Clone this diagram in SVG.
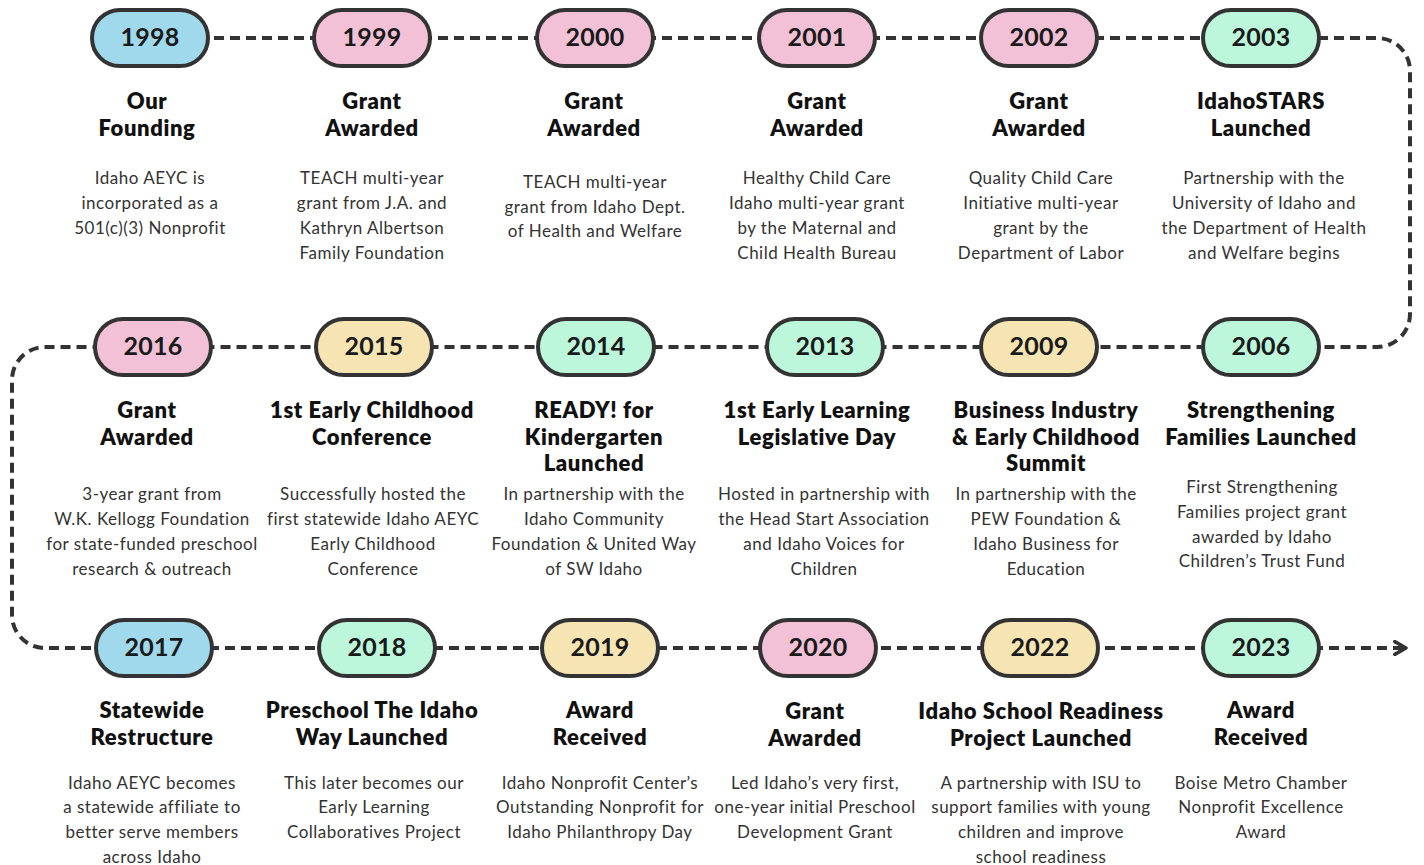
<svg xmlns="http://www.w3.org/2000/svg" width="1424" height="865" viewBox="0 0 1424 865">
<defs>
<style>
.pill{stroke:#333;stroke-width:4}
.blue{fill:#a0d8ec}.pink{fill:#f2c1d6}.green{fill:#bcf7dc}.yellow{fill:#f6e5b3}
.yr{font-family:Lato,"Liberation Sans",sans-serif;font-weight:700;font-size:25px;fill:#1a1a1a;text-anchor:middle;letter-spacing:0.3px}
.ti{font-family:Lato,"Liberation Sans",sans-serif;font-weight:800;font-size:22px;fill:#111;text-anchor:middle;letter-spacing:0.6px}
.bd{font-family:Lato,"Liberation Sans",sans-serif;font-weight:400;font-size:17px;fill:#333;text-anchor:middle;letter-spacing:0.5px}
.line{fill:none;stroke:#333;stroke-width:4;stroke-dasharray:10 6}
</style>
<marker id="arr" viewBox="0 0 10 10" refX="8" refY="5" markerWidth="4" markerHeight="4" orient="auto" markerUnits="strokeWidth">
<path d="M1,1 L8,5 L1,9" fill="none" stroke="#333" stroke-width="2.2" stroke-linecap="round" stroke-linejoin="round"/>
</marker>
</defs>
<rect width="1424" height="865" fill="#fff"/>
<g id="connectors">
<path class="line" d="M150,38 H1377 A33,33 0 0 1 1410,71 V314 A33,33 0 0 1 1377,347 H45 A33,33 0 0 0 12,380 V615 A33,33 0 0 0 45,648 H1406" marker-end="url(#arr)"/>
</g>

<g id="n1998"><rect class="pill blue" x="92" y="10" width="116" height="56" rx="28"/><text class="yr" x="150" y="46">1998</text>
<text class="ti" x="147" y="109">Our</text><text class="ti" x="147" y="136">Founding</text>
<text class="bd" x="150" y="184">Idaho AEYC is</text><text class="bd" x="150" y="209">incorporated as a</text><text class="bd" x="150" y="234">501(c)(3) Nonprofit</text></g>

<g id="n1999"><rect class="pill pink" x="314" y="10" width="116" height="56" rx="28"/><text class="yr" x="372" y="46">1999</text>
<text class="ti" x="372" y="109">Grant</text><text class="ti" x="372" y="136">Awarded</text>
<text class="bd" x="372" y="184">TEACH multi-year</text><text class="bd" x="372" y="209">grant from J.A. and</text><text class="bd" x="372" y="234">Kathryn Albertson</text><text class="bd" x="372" y="259">Family Foundation</text></g>

<g id="n2000"><rect class="pill pink" x="537" y="10" width="116" height="56" rx="28"/><text class="yr" x="595" y="46">2000</text>
<text class="ti" x="594" y="109">Grant</text><text class="ti" x="594" y="136">Awarded</text>
<text class="bd" x="595" y="188">TEACH multi-year</text><text class="bd" x="595" y="213">grant from Idaho Dept.</text><text class="bd" x="595" y="237">of Health and Welfare</text></g>

<g id="n2001"><rect class="pill pink" x="759" y="10" width="116" height="56" rx="28"/><text class="yr" x="817" y="46">2001</text>
<text class="ti" x="817" y="109">Grant</text><text class="ti" x="817" y="136">Awarded</text>
<text class="bd" x="817" y="184">Healthy Child Care</text><text class="bd" x="817" y="209">Idaho multi-year grant</text><text class="bd" x="817" y="234">by the Maternal and</text><text class="bd" x="817" y="259">Child Health Bureau</text></g>

<g id="n2002"><rect class="pill pink" x="981" y="10" width="116" height="56" rx="28"/><text class="yr" x="1039" y="46">2002</text>
<text class="ti" x="1039" y="109">Grant</text><text class="ti" x="1039" y="136">Awarded</text>
<text class="bd" x="1041" y="184">Quality Child Care</text><text class="bd" x="1041" y="209">Initiative multi-year</text><text class="bd" x="1041" y="234">grant by the</text><text class="bd" x="1041" y="259">Department of Labor</text></g>

<g id="n2003"><rect class="pill green" x="1203" y="10" width="116" height="56" rx="28"/><text class="yr" x="1261" y="46">2003</text>
<text class="ti" x="1261" y="109">IdahoSTARS</text><text class="ti" x="1261" y="136">Launched</text>
<text class="bd" x="1264" y="184">Partnership with the</text><text class="bd" x="1264" y="209">University of Idaho and</text><text class="bd" x="1264" y="234">the Department of Health</text><text class="bd" x="1264" y="259">and Welfare begins</text></g>

<g id="n2016"><rect class="pill pink" x="95" y="319" width="116" height="56" rx="28"/><text class="yr" x="153" y="355">2016</text>
<text class="ti" x="147" y="418">Grant</text><text class="ti" x="147" y="445">Awarded</text>
<text class="bd" x="152" y="500">3-year grant from</text><text class="bd" x="152" y="525">W.K. Kellogg Foundation</text><text class="bd" x="152" y="550">for state-funded preschool</text><text class="bd" x="152" y="575">research &amp; outreach</text></g>

<g id="n2015"><rect class="pill yellow" x="316" y="319" width="116" height="56" rx="28"/><text class="yr" x="374" y="355">2015</text>
<text class="ti" x="372" y="418">1st Early Childhood</text><text class="ti" x="372" y="445">Conference</text>
<text class="bd" x="373" y="500">Successfully hosted the</text><text class="bd" x="373" y="525">first statewide Idaho AEYC</text><text class="bd" x="373" y="550">Early Childhood</text><text class="bd" x="373" y="575">Conference</text></g>

<g id="n2014"><rect class="pill green" x="538" y="319" width="116" height="56" rx="28"/><text class="yr" x="596" y="355">2014</text>
<text class="ti" x="594" y="418">READY! for</text><text class="ti" x="594" y="445">Kindergarten</text><text class="ti" x="594" y="471">Launched</text>
<text class="bd" x="594" y="500">In partnership with the</text><text class="bd" x="594" y="525">Idaho Community</text><text class="bd" x="594" y="550">Foundation &amp; United Way</text><text class="bd" x="594" y="575">of SW Idaho</text></g>

<g id="n2013"><rect class="pill green" x="767" y="319" width="116" height="56" rx="28"/><text class="yr" x="825" y="355">2013</text>
<text class="ti" x="817" y="418">1st Early Learning</text><text class="ti" x="817" y="445">Legislative Day</text>
<text class="bd" x="824" y="500">Hosted in partnership with</text><text class="bd" x="824" y="525">the Head Start Association</text><text class="bd" x="824" y="550">and Idaho Voices for</text><text class="bd" x="824" y="575">Children</text></g>

<g id="n2009"><rect class="pill yellow" x="981" y="319" width="116" height="56" rx="28"/><text class="yr" x="1039" y="355">2009</text>
<text class="ti" x="1046" y="418">Business Industry</text><text class="ti" x="1046" y="445">&amp; Early Childhood</text><text class="ti" x="1046" y="471">Summit</text>
<text class="bd" x="1046" y="500">In partnership with the</text><text class="bd" x="1046" y="525">PEW Foundation &amp;</text><text class="bd" x="1046" y="550">Idaho Business for</text><text class="bd" x="1046" y="575">Education</text></g>

<g id="n2006"><rect class="pill green" x="1203" y="319" width="116" height="56" rx="28"/><text class="yr" x="1261" y="355">2006</text>
<text class="ti" x="1261" y="418">Strengthening</text><text class="ti" x="1261" y="445">Families Launched</text>
<text class="bd" x="1262" y="493">First Strengthening</text><text class="bd" x="1262" y="518">Families project grant</text><text class="bd" x="1262" y="543">awarded by Idaho</text><text class="bd" x="1262" y="567">Children’s Trust Fund</text></g>

<g id="n2017"><rect class="pill blue" x="96" y="620" width="116" height="56" rx="28"/><text class="yr" x="154" y="656">2017</text>
<text class="ti" x="152" y="718">Statewide</text><text class="ti" x="152" y="745">Restructure</text>
<text class="bd" x="152" y="789">Idaho AEYC becomes</text><text class="bd" x="152" y="813">a statewide affiliate to</text><text class="bd" x="152" y="838">better serve members</text><text class="bd" x="152" y="863">across Idaho</text></g>

<g id="n2018"><rect class="pill green" x="319" y="620" width="116" height="56" rx="28"/><text class="yr" x="377" y="656">2018</text>
<text class="ti" x="372" y="718">Preschool The Idaho</text><text class="ti" x="372" y="745">Way Launched</text>
<text class="bd" x="374" y="789">This later becomes our</text><text class="bd" x="374" y="813">Early Learning</text><text class="bd" x="374" y="838">Collaboratives Project</text></g>

<g id="n2019"><rect class="pill yellow" x="542" y="620" width="116" height="56" rx="28"/><text class="yr" x="600" y="656">2019</text>
<text class="ti" x="600" y="718">Award</text><text class="ti" x="600" y="745">Received</text>
<text class="bd" x="600" y="789">Idaho Nonprofit Center’s</text><text class="bd" x="600" y="813">Outstanding Nonprofit for</text><text class="bd" x="600" y="838">Idaho Philanthropy Day</text></g>

<g id="n2020"><rect class="pill pink" x="760" y="620" width="116" height="56" rx="28"/><text class="yr" x="818" y="656">2020</text>
<text class="ti" x="815" y="719">Grant</text><text class="ti" x="815" y="746">Awarded</text>
<text class="bd" x="815" y="789">Led Idaho’s very first,</text><text class="bd" x="815" y="813">one-year initial Preschool</text><text class="bd" x="815" y="838">Development Grant</text></g>

<g id="n2022"><rect class="pill yellow" x="982" y="620" width="116" height="56" rx="28"/><text class="yr" x="1040" y="656">2022</text>
<text class="ti" x="1041" y="719">Idaho School Readiness</text><text class="ti" x="1041" y="746">Project Launched</text>
<text class="bd" x="1041" y="789">A partnership with ISU to</text><text class="bd" x="1041" y="813">support families with young</text><text class="bd" x="1041" y="838">children and improve</text><text class="bd" x="1041" y="863">school readiness</text></g>

<g id="n2023"><rect class="pill green" x="1203" y="620" width="116" height="56" rx="28"/><text class="yr" x="1261" y="656">2023</text>
<text class="ti" x="1261" y="718">Award</text><text class="ti" x="1261" y="745">Received</text>
<text class="bd" x="1261" y="789">Boise Metro Chamber</text><text class="bd" x="1261" y="813">Nonprofit Excellence</text><text class="bd" x="1261" y="838">Award</text></g>
</svg>
